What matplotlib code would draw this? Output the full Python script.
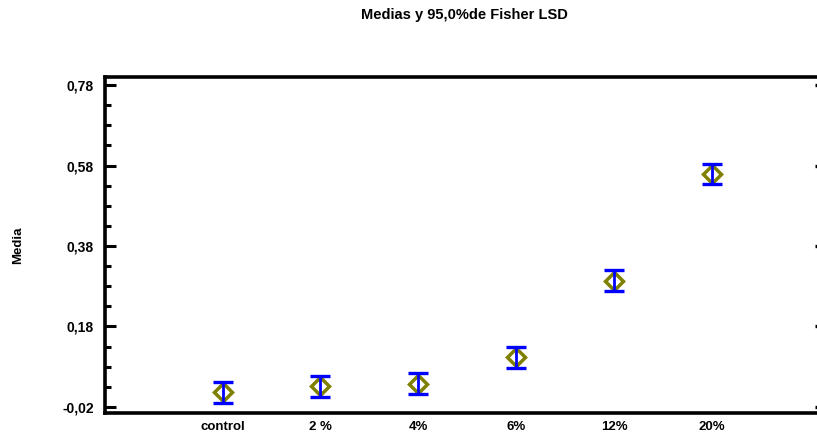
import numpy as np
import matplotlib as mpl
import matplotlib.pyplot as plt
from matplotlib.ticker import FixedLocator, MultipleLocator

mpl.rcParams['font.family'] = 'Liberation Sans'
mpl.rcParams['font.weight'] = 'bold'

groups = ["control", "2 %", "4%", "6%", "12%", "20%"]
means = [0.016, 0.031, 0.038, 0.104, 0.294, 0.558]
lsd_half = [0.025, 0.026, 0.026, 0.026, 0.026, 0.025]
ytick_values = [-0.02, 0.18, 0.38, 0.58, 0.78]
ytick_labels = ["-0,02", "0,18", "0,38", "0,58", "0,78"]

W, H = 817, 440
fig = plt.figure(figsize=(W / 100, H / 100), dpi=100)
ax = fig.add_axes([105 / W, (H - 413) / H, (818 - 105) / W, (413 - 77) / H])

xs = np.arange(len(groups))
ax.plot(xs, means, ls='none', marker='D', ms=9, mfc='none',
        mec='#808000', mew=2.5, zorder=2)
ax.errorbar(xs, means, yerr=lsd_half, fmt='none', ecolor='#0000ff',
            elinewidth=2, capsize=7.5, capthick=2.4, zorder=3)

ax.set_xlim(-1.2, 6.08)
ax.set_ylim(-0.035, 0.80)

ax.set_xticks(xs)
ax.set_xticklabels(groups, fontsize=9.5, fontweight='bold')
ax.tick_params(axis='x', length=0, pad=6)

ax.yaxis.set_major_locator(FixedLocator(ytick_values))
ax.yaxis.set_minor_locator(MultipleLocator(0.05, offset=-0.02))
ax.set_yticklabels(ytick_labels, fontsize=10, fontweight='bold')
ax.tick_params(axis='y', which='major', direction='in', length=8, width=2.2,
               pad=8)
ax.tick_params(axis='y', which='minor', direction='in', length=4, width=2.2)

# short marks on the right edge, majors only
right = ax.secondary_yaxis('right')
right.set_yticks(ytick_values)
right.set_yticklabels([])
right.tick_params(direction='in', length=2, width=2.4)
right.spines['right'].set_visible(False)

for side in ('left', 'bottom', 'top'):
    ax.spines[side].set_linewidth(2.6)
ax.spines['right'].set_visible(False)

fig.text(18 / W, 1 - 245 / H, "Media", rotation=90, ha='center', va='center',
         fontsize=9.5, fontweight='bold')
fig.text(464 / W, 1 - 15 / H, "Medias y 95,0%de Fisher LSD", ha='center',
         va='center', fontsize=10.5, fontweight='bold')

fig.savefig("out.png", dpi=100)
